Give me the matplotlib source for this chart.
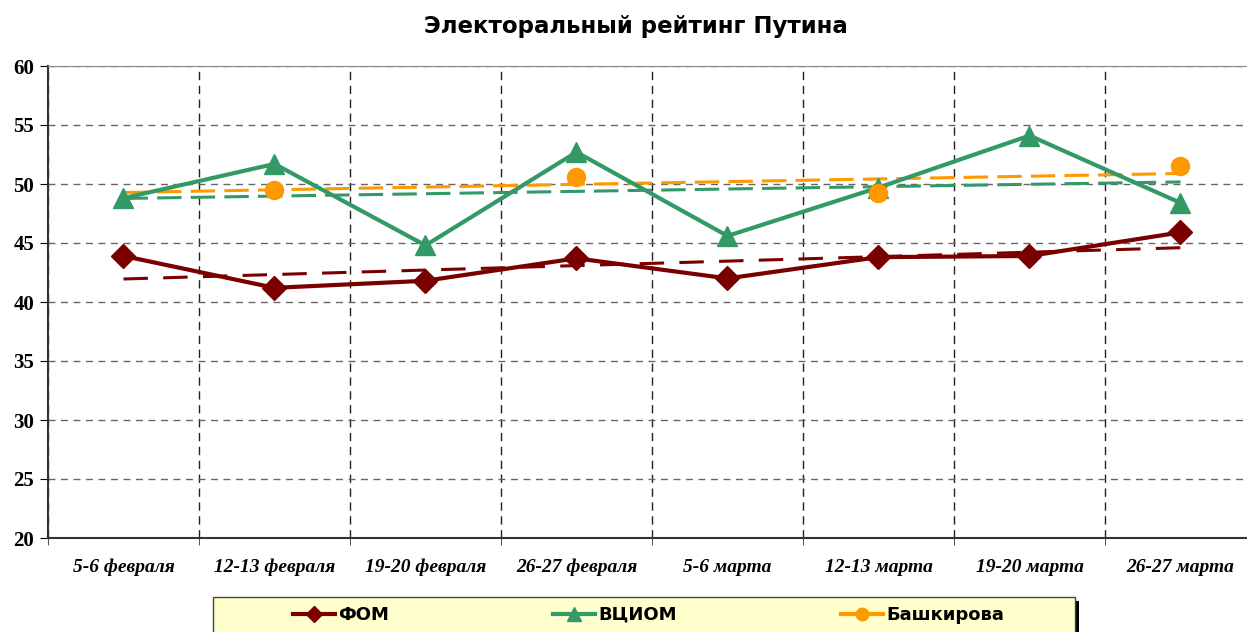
import numpy as np
import matplotlib.pyplot as plt
from matplotlib.patches import Rectangle

# data
dates = ['5-6 февраля', '12-13 февраля', '19-20 февраля', '26-27 февраля',
         '5-6 марта', '12-13 марта', '19-20 марта', '26-27 марта']
fom = [43.9, 41.2, 41.8, 43.7, 42.0, 43.8, 43.9, 45.9]
vciom = [48.8, 51.7, 44.8, 52.7, 45.6, 49.7, 54.1, 48.4]
bashk_idx = [1, 3, 5, 7]
bashk = [49.5, 50.6, 49.2, 51.5]

C_FOM = '#7A0000'
C_VC = '#339966'
C_BA = '#FF9900'

fig = plt.figure(figsize=(12.47, 6.32), dpi=100)
ax = fig.add_axes([48 / 1247, 94 / 632, 1208 / 1247, 472 / 632])

x = np.arange(len(dates))


def trend(xs, ys):
    k, b = np.polyfit(xs, ys, 1)
    return k * x + b


# trend lines
ax.plot(x, trend(x, fom), color=C_FOM, lw=2.2, dashes=(8, 5), zorder=3)
ax.plot(x, trend(x, vciom), color=C_VC, lw=2.2, dashes=(8, 3), zorder=3)
ax.plot(x, trend(bashk_idx, bashk), color=C_BA, lw=2.2, dashes=(8, 3), zorder=3)

# main series
ax.plot(x, fom, color=C_FOM, lw=3, marker='D', ms=12, label='ФОМ', zorder=4)
ax.plot(x, vciom, color=C_VC, lw=3, marker='^', ms=15, label='ВЦИОМ', zorder=4)
ax.plot(bashk_idx, bashk, ls='none', color=C_BA, marker='o', ms=13, zorder=4)

ax.set_xlim(-0.5, 7.5)
ax.set_ylim(20, 60)
ax.set_yticks(np.arange(20, 61, 5))
ax.set_xticks(x)
ax.set_xticks(np.arange(-0.5, 8, 1), minor=True)
ax.set_xticklabels(dates, fontfamily='Liberation Serif', fontweight='bold',
                   fontstyle='italic', fontsize=14)
for lab in ax.get_yticklabels():
    lab.set_fontfamily('Liberation Serif')
    lab.set_fontweight('bold')
    lab.set_fontsize(15)
ax.tick_params(axis='x', which='major', length=0, pad=15)
ax.tick_params(axis='x', which='minor', length=5, direction='out', color='#333333')
ax.tick_params(axis='y', length=6, direction='out', pad=4)

ax.grid(axis='y', which='major', color='#666666', lw=1, dashes=(5, 4))
ax.grid(axis='x', which='minor', color='#222222', lw=1, dashes=(6, 4))
ax.set_axisbelow(True)

ax.spines['top'].set_color('#888888')
ax.spines['right'].set_visible(False)
ax.spines['left'].set_color('#333333')
ax.spines['bottom'].set_color('#333333')
ax.spines['left'].set_linewidth(1.5)
ax.spines['bottom'].set_linewidth(1.5)

fig.text(636 / 1247, 1 - 27 / 632, 'Электоральный рейтинг Путина', ha='center',
         va='center', fontsize=16.5, fontweight='bold', fontfamily='DejaVu Sans')

# legend box with black shadow
lx0, lx1, ly0 = 213 / 1247, 1075 / 1247, 1 - 597 / 632
fig.patches.append(Rectangle((lx0 + 4 / 1247, -0.1), lx1 - lx0, ly0 + 0.1 - 4 / 632,
                             transform=fig.transFigure, facecolor='black',
                             edgecolor='none', zorder=1))
fig.patches.append(Rectangle((lx0, -0.1), lx1 - lx0, ly0 + 0.1,
                             transform=fig.transFigure, facecolor='#FFFFCC',
                             edgecolor='#444444', lw=1, zorder=2))

h_fom, = ax.plot([], [], color=C_FOM, lw=3, marker='D', ms=8)
h_vc, = ax.plot([], [], color=C_VC, lw=3, marker='^', ms=10)
h_ba, = ax.plot([], [], color=C_BA, lw=3, marker='o', ms=9)
leg = fig.legend([h_fom, h_vc, h_ba], ['ФОМ', 'ВЦИОМ', 'Башкирова'],
                 loc='center left', bbox_to_anchor=(293 / 1247, 1 - 615 / 632),
                 ncol=3, frameon=False, borderaxespad=0, borderpad=0,
                 handlelength=2.3, handletextpad=0.2, columnspacing=9.1,
                 prop={'family': 'DejaVu Sans', 'weight': 'bold', 'size': 13})
leg.set_zorder(3)

fig.savefig('out.png', dpi=100)
